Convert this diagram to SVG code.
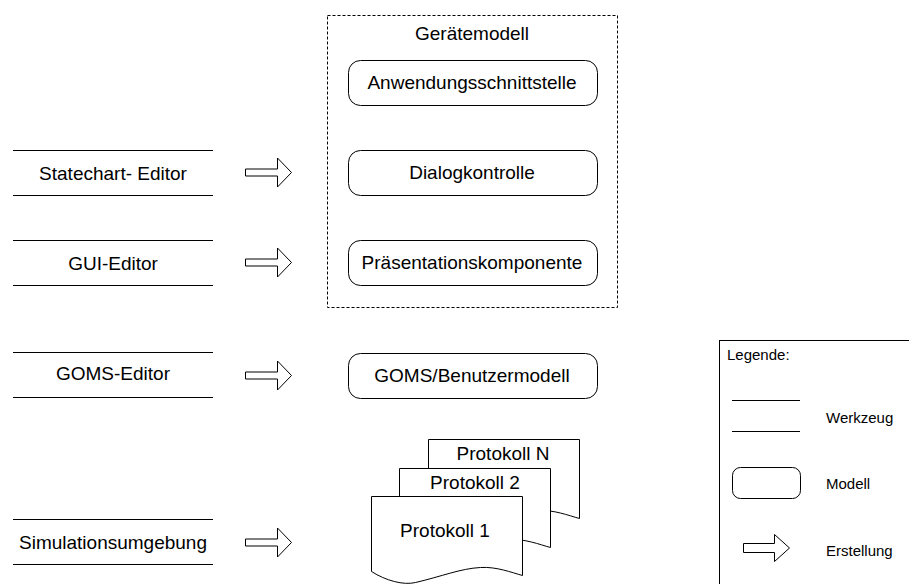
<svg xmlns="http://www.w3.org/2000/svg" width="909" height="584" viewBox="0 0 909 584">
<style>
text{font-family:"Liberation Sans",Arial,sans-serif;font-size:19px;fill:#000}
.mid{text-anchor:middle}
.leg{font-size:15px}
.ln{stroke:#000;stroke-width:1;fill:none}
.model{fill:#fff;stroke:#000;stroke-width:1}
.doc{fill:#fff;stroke:#000;stroke-width:1}
.arr{fill:#fff;stroke:#000;stroke-width:1;stroke-linejoin:miter}
</style>
<defs>
<polygon id="blockArrow" points="0,-3.5 32,-3.5 32,-14.5 46,0 32,14.5 32,3.5 0,3.5"/>
<path id="docShape" d="M0,0 H151 V79 C140,76 125,70 109,71 C89,72 70,80 44,86 C32,89 14,84 0,75 Z"/>
</defs>
<rect width="909" height="584" fill="#fff"/>

<g id="geraetemodell">
<rect x="327.5" y="15.5" width="290" height="292" fill="none" stroke="#000" stroke-width="1" stroke-dasharray="3,2"/>
<text class="mid" x="472" y="40">Gerätemodell</text>
</g>
<g id="anwendungsschnittstelle">
<rect class="model" x="348.5" y="60.5" width="249" height="45" rx="12"/>
<text class="mid" x="472" y="89">Anwendungsschnittstelle</text>
</g>
<g id="dialogkontrolle">
<rect class="model" x="348.5" y="150.5" width="249" height="45" rx="12"/>
<text class="mid" x="472" y="179">Dialogkontrolle</text>
</g>
<g id="praesentationskomponente">
<rect class="model" x="348.5" y="240.5" width="249" height="45" rx="12"/>
<text class="mid" x="472" y="269">Präsentationskomponente</text>
</g>
<g id="goms-benutzermodell">
<rect class="model" x="348.5" y="353.5" width="249" height="45" rx="12"/>
<text class="mid" x="472" y="382">GOMS/Benutzermodell</text>
</g>

<g id="statechart-editor">
<line class="ln" x1="13" y1="150.5" x2="213" y2="150.5"/>
<line class="ln" x1="13" y1="195.5" x2="213" y2="195.5"/>
<text class="mid" x="113" y="180">Statechart- Editor</text>
</g>
<g id="gui-editor">
<line class="ln" x1="13" y1="240.5" x2="213" y2="240.5"/>
<line class="ln" x1="13" y1="285.5" x2="213" y2="285.5"/>
<text class="mid" x="113" y="270">GUI-Editor</text>
</g>
<g id="goms-editor">
<line class="ln" x1="13" y1="352.5" x2="213" y2="352.5"/>
<line class="ln" x1="13" y1="397.5" x2="213" y2="397.5"/>
<text class="mid" x="113" y="380">GOMS-Editor</text>
</g>
<g id="simulationsumgebung">
<line class="ln" x1="13" y1="519.5" x2="213" y2="519.5"/>
<line class="ln" x1="13" y1="564.5" x2="213" y2="564.5"/>
<text class="mid" x="113" y="549">Simulationsumgebung</text>
</g>

<g id="protokolle">
<use href="#docShape" class="doc" x="428.5" y="439.5"/>
<use href="#docShape" class="doc" x="399.5" y="468.5"/>
<use href="#docShape" class="doc" x="371.5" y="496.5"/>
<text class="mid" x="503" y="460">Protokoll N</text>
<text class="mid" x="475" y="489">Protokoll 2</text>
<text class="mid" x="445" y="537">Protokoll 1</text>
</g>

<g id="connectors">
<use href="#blockArrow" class="arr" x="245.5" y="172.5"/>
<use href="#blockArrow" class="arr" x="245.5" y="262.5"/>
<use href="#blockArrow" class="arr" x="245.5" y="375.5"/>
<use href="#blockArrow" class="arr" x="245.5" y="542.5"/>
</g>

<g id="legende">
<rect x="719.5" y="340.5" width="200" height="260" fill="#fff" stroke="#000" stroke-width="1"/>
<text class="leg" x="727" y="360">Legende:</text>
<line class="ln" x1="732" y1="400.5" x2="800" y2="400.5"/>
<line class="ln" x1="732" y1="431.5" x2="800" y2="431.5"/>
<text class="leg" x="826" y="423">Werkzeug</text>
<rect class="model" x="732.5" y="467.5" width="68" height="31" rx="8"/>
<text class="leg" x="826" y="489">Modell</text>
<polygon class="arr" points="743.5,543.5 774.5,543.5 774.5,534.5 789.5,548 774.5,561.5 774.5,552.5 743.5,552.5"/>
<text class="leg" x="826" y="556">Erstellung</text>
</g>
</svg>
